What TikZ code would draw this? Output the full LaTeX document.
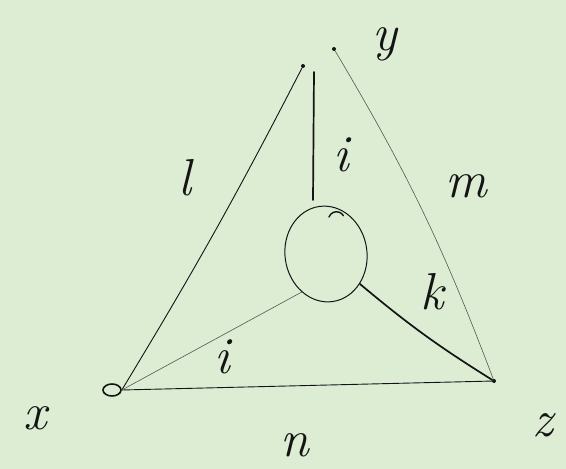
\documentclass[tikz,border=0pt]{standalone}
\usepackage{fontspec}
\usetikzlibrary{shapes.geometric}
\definecolor{bg}{HTML}{DDEDD4}
\definecolor{ink}{HTML}{141414}
\definecolor{thin}{HTML}{555555}
\begin{document}
\begin{tikzpicture}[x=1pt,y=-1pt,
  lbl/.style={font=\itshape\fontsize{52}{52}\selectfont, text=ink, inner sep=0pt},
  vert/.style={ellipse, draw=ink, line width=1.6pt, inner sep=0pt, minimum width=18pt, minimum height=12pt},
  vdot/.style={circle, fill=ink, inner sep=0pt, minimum size=4pt},
  hub/.style={ellipse, draw=ink, line width=1pt, inner sep=0pt, minimum width=82pt, minimum height=96pt},
  edgethin/.style={draw=thin, line width=0.6pt},
  edgemid/.style={draw=ink, line width=0.9pt},
  edgethick/.style={draw=ink, line width=1.7pt, line cap=round}]
\fill[bg] (0,0) rectangle (566,469);
\useasboundingbox (0,0) rectangle (566,469);
% vertices
\node[vert] (x) at (112,390) {};
\node[vdot] (y) at (303,66) {};
\node[vdot] (y2) at (334,49) {};
\node[vdot] (z) at (494,381) {};
\node[hub, rotate=8] (c) at (326,254) {};
\coordinate (ctop) at (313,200);
\coordinate (ytop) at (314,72);
% edges
\draw[edgemid] (x.east) to[bend right=2] (y);
\draw[edgethin] (y2) to[bend left=5] (z);
\draw[edgemid] (x.east) -- (z);
\draw[edgethick] (ctop) -- (ytop);
\draw[edgethin] (x.east) -- (c.south west);
\draw[edgethick] (z) to[bend left=4] (c.south east);
\draw[ink, line width=1.4pt, line cap=round] (329,217) arc[start angle=200, end angle=330, radius=8];
% vertex labels
\node[lbl] (lx) at (35,418) {x};
\node[lbl] (ly) at (385,44) {y};
\node[lbl] (lz) at (543,425) {z};
% edge labels
\node[lbl] (ll) at (185,178) {l};
\node[lbl] (lm) at (466,186) {m};
\node[lbl] (ln) at (295,445) {n};
\node[lbl] (li1) at (341,155) {i};
\node[lbl] (lk) at (432,292) {k};
\node[lbl] (li2) at (222,357) {i};
\end{tikzpicture}
\end{document}
